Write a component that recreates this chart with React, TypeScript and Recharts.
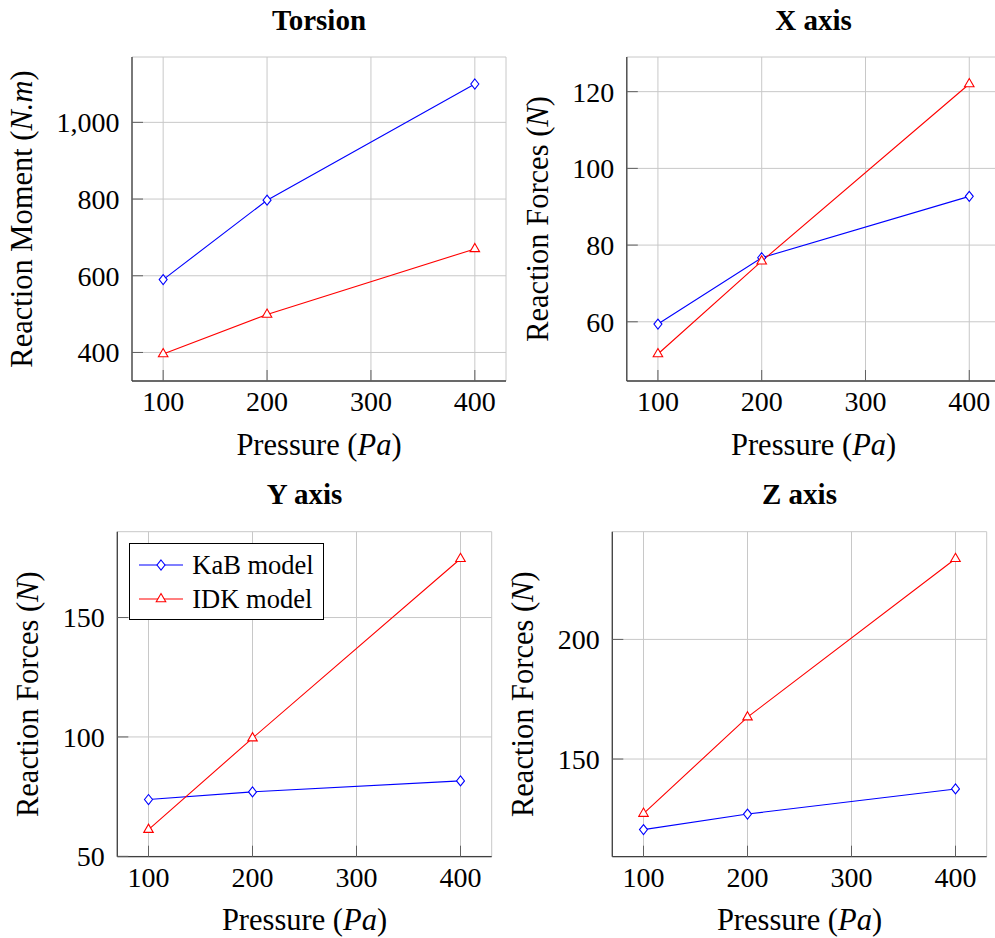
import React from 'react'
import { LineChart, Line, XAxis, YAxis, CartesianGrid, Legend, Label } from 'recharts'

const FONT = 'Liberation Serif, Times New Roman, serif'

// pressure values (Pa) and tick labels for every x axis
const pressure = [100, 200, 400]
const pressureTicks = [100, 200, 300, 400]

// reaction values
const torsionKab = [590, 797, 1100]
const torsionIdk = [396, 499, 670]
const xForceKab = [59.4, 76.7, 92.7]
const xForceIdk = [51.6, 75.8, 122]
const yForceKab = [73.8, 77, 81.6]
const yForceIdk = [61.2, 99.5, 174.6]
const zForceKab = [120.5, 127, 137.5]
const zForceIdk = [127.2, 167.5, 233.7]

const torsionTicks = [400, 600, 800, 1000]
const xForceTicks = [60, 80, 100, 120]
const yForceTicks = [50, 100, 150]
const zForceTicks = [150, 200]

const seriesKeys = ['kab', 'idk']
const seriesNames = ['KaB model', 'IDK model']

// pgfplots style: 10% padding around the data range
const enlarge = (vals: number[]): [number, number] => {
  const lo = Math.min(...vals)
  const hi = Math.max(...vals)
  const pad = (hi - lo) * 0.1
  return [lo - pad, hi + pad]
}

const Y_W = 100
const X_H = 80
const TICK = -11

type Part = { t: string; i?: boolean }

const Diamond = (props: any) => {
  const { cx, cy, stroke, index } = props
  if (cx == null || cy == null) return null
  return (
    <path
      key={'d' + index}
      d={`M${cx},${cy - 5}L${cx + 4},${cy}L${cx},${cy + 5}L${cx - 4},${cy}Z`}
      fill="#fff"
      stroke={stroke}
      strokeWidth={1.1}
    />
  )
}

const Triangle = (props: any) => {
  const { cx, cy, stroke, index } = props
  if (cx == null || cy == null) return null
  const r = 5.5
  return (
    <path
      key={'t' + index}
      d={`M${cx},${cy - r}L${cx + 0.866 * r},${cy + 0.5 * r}L${cx - 0.866 * r},${cy + 0.5 * r}Z`}
      fill="#fff"
      stroke={stroke}
      strokeWidth={1.1}
    />
  )
}

const renderLegend = (props: any) => {
  const items = [...(props.payload || [])].sort(
    (a: any, b: any) => seriesKeys.indexOf(a.dataKey) - seriesKeys.indexOf(b.dataKey)
  )
  return (
    <div
      style={{
        boxSizing: 'border-box',
        width: 195,
        height: 77,
        border: '1px solid #000',
        background: '#fff',
        paddingTop: 5,
        fontFamily: FONT,
        fontSize: 26.5,
        color: '#000',
      }}
    >
      {items.map((it: any, i: number) => (
        <div key={i} style={{ display: 'flex', alignItems: 'center', height: 33.4 }}>
          <svg width={58} height={20} style={{ marginLeft: 7, overflow: 'visible' }}>
            <line x1={2} y1={10} x2={46} y2={10} stroke={it.color} strokeWidth={1.1} />
            {it.dataKey === 'kab' ? (
              <Diamond cx={24} cy={10} stroke={it.color} index={0} />
            ) : (
              <Triangle cx={24} cy={10} stroke={it.color} index={0} />
            )}
          </svg>
          <span style={{ marginLeft: -3, lineHeight: 1 }}>{it.value}</span>
        </div>
      ))}
    </div>
  )
}

type PanelProps = {
  title: string
  yLabel: Part[]
  yLabelOff: number
  kab: number[]
  idk: number[]
  yTicks: number[]
  left: number
  top: number
  width: number
  height: number
  plot: { l: number; t: number; r: number; b: number }
  legend?: boolean
}

function Panel(p: PanelProps) {
  const data = pressure.map((v, i) => ({ p: v, kab: p.kab[i], idk: p.idk[i] }))
  const yDom = enlarge([...p.kab, ...p.idk])
  const xDom: [number, number] = [70, 430]
  const pw = p.plot.r - p.plot.l
  const margin = {
    top: p.plot.t - p.top,
    left: p.plot.l - p.left - Y_W,
    right: p.left + p.width - p.plot.r,
    bottom: p.top + p.height - p.plot.b - X_H,
  }
  const axisLine = { stroke: '#404040', strokeWidth: 1.3 }
  const tickLine = { stroke: '#606060', strokeWidth: 1 }
  const tickStyle = { fontSize: 28, fill: '#000', fontFamily: FONT }

  const titleContent = (lp: any) => {
    const vb = lp.viewBox
    const plotLeft = vb.x + vb.width
    return (
      <text x={plotLeft + pw / 2} y={vb.y - 27.5} textAnchor="middle" fontFamily={FONT} fontSize={29} fontWeight="bold" fill="#000">
        {p.title}
      </text>
    )
  }
  const xLabelContent = (lp: any) => {
    const vb = lp.viewBox
    return (
      <text x={vb.x + vb.width / 2} y={vb.y + 73.5} textAnchor="middle" fontFamily={FONT} fontSize={30.5} fill="#000">
        Pressure (<tspan fontStyle="italic">Pa</tspan>)
      </text>
    )
  }
  const yLabelContent = (lp: any) => {
    const vb = lp.viewBox
    const x = vb.x + vb.width - p.yLabelOff
    const y = vb.y + vb.height / 2
    return (
      <text x={x} y={y} transform={`rotate(-90 ${x} ${y})`} textAnchor="middle" fontFamily={FONT} fontSize={30.5} fill="#000">
        {p.yLabel.map((pt, i) => (
          <tspan key={i} fontStyle={pt.i ? 'italic' : 'normal'}>
            {pt.t}
          </tspan>
        ))}
      </text>
    )
  }

  return (
    <div style={{ position: 'absolute', left: p.left, top: p.top }}>
      <LineChart width={p.width} height={p.height} data={data} margin={margin}>
        <CartesianGrid stroke="#c8c8c8" strokeWidth={1} />
        <XAxis
          dataKey="p"
          type="number"
          domain={xDom}
          ticks={pressureTicks}
          allowDataOverflow
          interval={0}
          height={X_H}
          tickSize={TICK}
          tickMargin={21}
          tick={tickStyle}
          axisLine={axisLine}
          tickLine={tickLine}
        >
          <Label content={xLabelContent} />
        </XAxis>
        <XAxis
          xAxisId="top"
          orientation="top"
          dataKey="p"
          type="number"
          domain={xDom}
          ticks={pressureTicks}
          allowDataOverflow
          interval={0}
          height={0}
          tickSize={TICK}
          tick={false}
          axisLine={axisLine}
          tickLine={tickLine}
        />
        <YAxis
          type="number"
          domain={yDom}
          ticks={p.yTicks}
          allowDataOverflow
          interval={0}
          width={Y_W}
          tickSize={TICK}
          tickMargin={23.5}
          tick={tickStyle}
          tickFormatter={(v: number) => v.toLocaleString('en-US')}
          axisLine={axisLine}
          tickLine={tickLine}
        >
          <Label content={yLabelContent} />
          <Label content={titleContent} />
        </YAxis>
        <YAxis
          yAxisId="right"
          orientation="right"
          type="number"
          domain={yDom}
          ticks={p.yTicks}
          allowDataOverflow
          interval={0}
          width={0}
          tickSize={TICK}
          tick={false}
          axisLine={axisLine}
          tickLine={tickLine}
        />
        {p.legend && (
          <Legend
            layout="vertical"
            align="center"
            verticalAlign="middle"
            content={renderLegend}
            wrapperStyle={{ left: 129.3, top: 72.7, width: 195, height: 77 }}
          />
        )}
        <Line
          dataKey="kab"
          name={seriesNames[0]}
          stroke="#0000ff"
          strokeWidth={1.1}
          dot={Diamond}
          activeDot={false}
          isAnimationActive={false}
        />
        <Line
          dataKey="idk"
          name={seriesNames[1]}
          stroke="#ff0000"
          strokeWidth={1.1}
          dot={Triangle}
          activeDot={false}
          isAnimationActive={false}
        />
      </LineChart>
    </div>
  )
}

export default function App() {
  return (
    <div
      style={{
        position: 'absolute',
        left: 0,
        top: 0,
        width: 995,
        height: 938,
        overflow: 'hidden',
        background: '#fff',
      }}
    >
      <Panel
        title="Torsion"
        yLabel={[{ t: 'Reaction Moment (' }, { t: 'N.m', i: true }, { t: ')' }]}
        yLabelOff={100.3}
        kab={torsionKab}
        idk={torsionIdk}
        yTicks={torsionTicks}
        left={0}
        top={0}
        width={520}
        height={470}
        plot={{ l: 132, t: 57, r: 506, b: 381 }}
      />
      <Panel
        title="X axis"
        yLabel={[{ t: 'Reaction Forces (' }, { t: 'N', i: true }, { t: ')' }]}
        yLabelOff={79.3}
        kab={xForceKab}
        idk={xForceIdk}
        yTicks={xForceTicks}
        left={500}
        top={0}
        width={520}
        height={470}
        plot={{ l: 626.8, t: 57, r: 1000.4, b: 381 }}
      />
      <Panel
        title="Y axis"
        yLabel={[{ t: 'Reaction Forces (' }, { t: 'N', i: true }, { t: ')' }]}
        yLabelOff={79.3}
        kab={yForceKab}
        idk={yForceIdk}
        yTicks={yForceTicks}
        left={0}
        top={470}
        width={500}
        height={468}
        plot={{ l: 117.3, t: 531.7, r: 491.7, b: 856.7 }}
        legend
      />
      <Panel
        title="Z axis"
        yLabel={[{ t: 'Reaction Forces (' }, { t: 'N', i: true }, { t: ')' }]}
        yLabelOff={79.3}
        kab={zForceKab}
        idk={zForceIdk}
        yTicks={zForceTicks}
        left={500}
        top={470}
        width={495}
        height={468}
        plot={{ l: 612.3, t: 531.7, r: 986.7, b: 856.7 }}
      />
    </div>
  )
}
